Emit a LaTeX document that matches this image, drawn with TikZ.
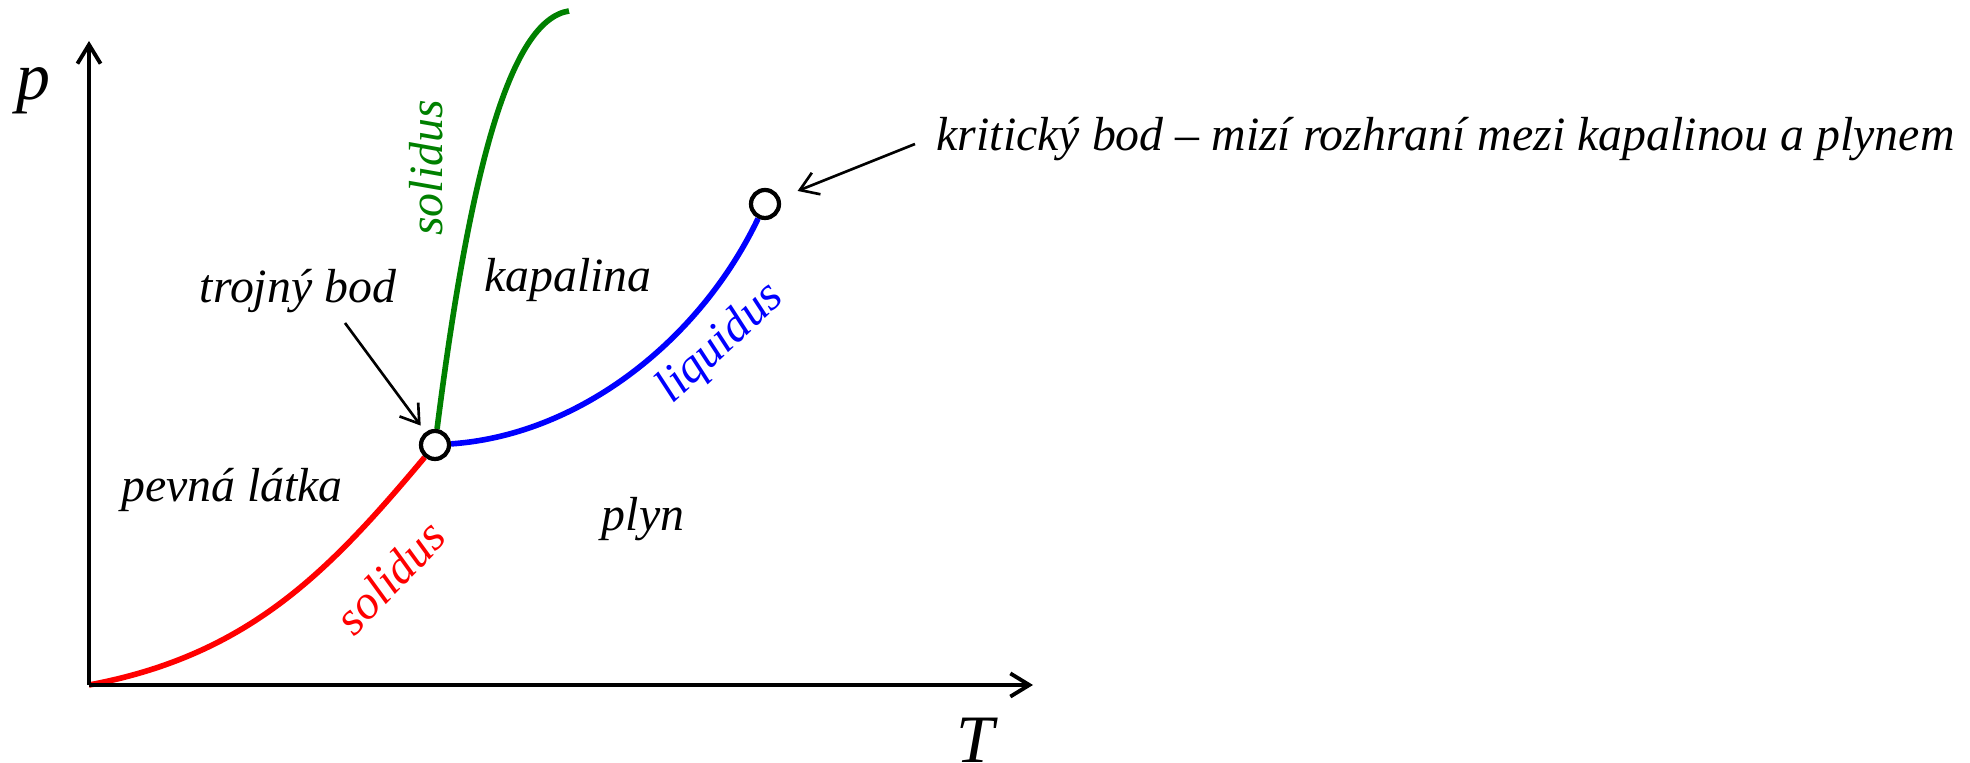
\documentclass[tikz,border=0pt]{standalone}
\usepackage{fontspec}
\setmainfont{Liberation Serif}
\usetikzlibrary{arrows.meta,calc,backgrounds}
\definecolor{cSub}{RGB}{255,0,0}
\definecolor{cMelt}{RGB}{0,128,0}
\definecolor{cBoil}{RGB}{0,0,255}

\begin{document}
\begin{tikzpicture}[>={Straight Barb[length=5pt,width=6.6pt]},
  font=\fontsize{13.6}{16}\selectfont\itshape,
  axis/.style={line width=1.1pt,-{Straight Barb[length=5.4pt,width=6.6pt]}},
  curve/.style={line width=1.6pt},
  pt/.style={circle,draw,fill=white,line width=1.2pt,minimum size=0.28cm,inner sep=0pt},
  lab/.style={inner sep=0pt,anchor=base},
  big/.style={lab,font=\fontsize{19.3}{22}\selectfont\itshape},
  note/.style={->,line width=0.75pt}]
  \useasboundingbox (0,0) rectangle (19.70,7.63);
  % axes
  \coordinate (O) at (0.89,0.78);
  \coordinate (ptop) at (0.89,7.22);
  \coordinate (Tend) at (10.33,0.78);
  \draw[axis] (O) -- (ptop);
  \draw[axis] (O) -- (Tend);
  \node[big] (plab) at (0.33,6.63) {p};
  \node[big] (Tlab) at (9.75,0.0) {T};
  % triple and critical point
  \node[pt] (triple) at (4.35,3.18) {};
  \node[pt] (crit) at (7.65,5.59) {};
  \coordinate (meltend) at (5.69,7.52);
  % phase boundaries (behind the points)
  \begin{scope}[on background layer]
    \draw[curve,cSub] (O) .. controls (2.50,1.08) and (3.30,1.93) .. (triple);
    \draw[curve,cMelt] (triple) .. controls (4.70,5.93) and (5.10,7.43) .. (meltend);
    \draw[curve,cBoil] (triple) .. controls (5.80,3.28) and (7.00,4.23) .. (crit);
  \end{scope}
  % curve labels
  \node[lab,anchor=center,rotate=90,cMelt] (meltlab) at (4.26,5.95) {solidus};
  \node[lab,anchor=center,rotate=46,cSub] (sublab) at (3.90,1.86) {solidus};
  \node[lab,anchor=center,rotate=43,cBoil] (boillab) at (7.21,4.19) {liquidus};
  % regions
  \node[lab] (solid) at (2.32,2.61) {pevná látka};
  \node[lab] (liquid) at (5.68,4.71) {kapalina};
  \node[lab] (gas) at (6.43,2.32) {plyn};
  % annotations
  \node[lab] (troj) at (2.98,4.60) {trojný bod};
  \coordinate (trojtail) at (3.45,4.40);
  \draw[note,shorten >=0.08cm] (trojtail) -- (triple);
  \node[lab,anchor=base west] (krit) at (9.36,6.12) {kritický bod – mizí rozhraní mezi kapalinou a plynem};
  \coordinate (krittail) at (9.15,6.19);
  \draw[note,shorten >=0.19cm] (krittail) -- (crit);
\end{tikzpicture}
\end{document}
